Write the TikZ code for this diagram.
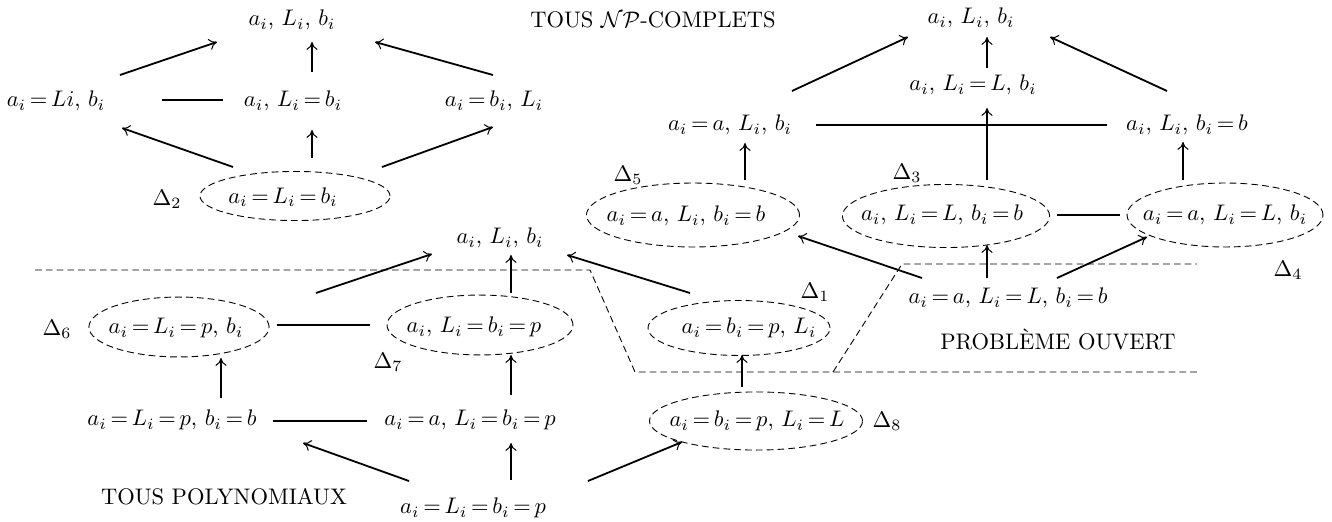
\documentclass[tikz,border=0pt]{standalone}
\usepackage{fontspec}
\usetikzlibrary{calc,arrows.meta}
\begin{document}
\begin{tikzpicture}[x=0.444pt,y=-0.444pt,
  lbl/.style={inner sep=0pt},
  arr/.style={line width=0.8pt,-{To[length=3.5pt,width=5pt,line width=0.45pt]}},
  lin/.style={line width=0.8pt},
  dsh/.style={line width=0.4pt,dash pattern=on 3pt off 1.8pt}]
\thickmuskip=3mu
\useasboundingbox (0,0) rectangle (1332,522);
% top-left group
\node[lbl] (A1) at (292,20) {$a_i$, $L_i$, $b_i$};
\node[lbl] (A2) at (56,101) {$a_i=Li$, $b_i$};
\node[lbl] (A3) at (293,101) {$a_i$, $L_i=b_i$};
\node[lbl] (A4) at (494,101) {$a_i=b_i$, $L_i$};
\node[lbl] (A5) at (283,197) {$a_i=L_i=b_i$};
\node[lbl] (D2) at (167,199) {$\Delta_2$};
\node[lbl] (T1) at (653,20) {TOUS $\mathcal{NP}$-COMPLETS};
% top-right group
\node[lbl] (B1) at (971,18) {$a_i$, $L_i$, $b_i$};
\node[lbl] (B2) at (973,85) {$a_i$, $L_i=L$, $b_i$};
\node[lbl] (B3) at (730,125) {$a_i=a$, $L_i$, $b_i$};
\node[lbl] (B4) at (1187,125) {$a_i$, $L_i$, $b_i=b$};
\node[lbl] (E5) at (686,216) {$a_i=a$, $L_i$, $b_i=b$};
\node[lbl] (E3) at (942,215) {$a_i$, $L_i=L$, $b_i=b$};
\node[lbl] (E4) at (1225,215) {$a_i=a$, $L_i=L$, $b_i$};
\node[lbl] (D5) at (628,175) {$\Delta_5$};
\node[lbl] (D3) at (907,173) {$\Delta_3$};
\node[lbl] (D4) at (1288,270) {$\Delta_4$};
\node[lbl] (N) at (1008,298) {$a_i=a$, $L_i=L$, $b_i=b$};
\node[lbl] (T2) at (1058,340) {PROBLÈME OUVERT};
% bottom-left group
\node[lbl] (C1) at (500,238) {$a_i$, $L_i$, $b_i$};
\node[lbl] (C2) at (176,328) {$a_i=L_i=p$, $b_i$};
\node[lbl] (C3) at (474,327) {$a_i$, $L_i=b_i=p$};
\node[lbl] (C4) at (749,328) {$a_i=b_i=p$, $L_i$};
\node[lbl] (C5) at (172,420) {$a_i=L_i=p$, $b_i=b$};
\node[lbl] (C6) at (470,420) {$a_i=a$, $L_i=b_i=p$};
\node[lbl] (C7) at (757,421) {$a_i=b_i=p$, $L_i=L$};
\node[lbl] (C8) at (473,508) {$a_i=L_i=b_i=p$};
\node[lbl] (D6) at (57,329) {$\Delta_6$};
\node[lbl] (D7) at (388,362) {$\Delta_7$};
\node[lbl] (D1) at (815,292) {$\Delta_1$};
\node[lbl] (D8) at (887,421) {$\Delta_8$};
\node[lbl] (T3) at (224,497) {TOUS POLYNOMIAUX};
% ellipses
\draw[dsh] ($(A5)+(12,-1)$) ellipse [x radius=42.2pt, y radius=10.9pt];
\draw[dsh] ($(E5)+(7,-1)$) ellipse [x radius=47.3pt, y radius=14.2pt];
\draw[dsh] ($(E3)+(4,1)$) ellipse [x radius=46pt, y radius=14pt];
\draw[dsh] ($(E4)+(0,0)$) ellipse [x radius=43.5pt, y radius=14.2pt];
\draw[dsh] ($(C2)+(3,-1)$) ellipse [x radius=40pt, y radius=13.3pt];
\draw[dsh] ($(C3)+(6,-2)$) ellipse [x radius=41.3pt, y radius=13.3pt];
\draw[dsh] ($(C4)+(-10,0)$) ellipse [x radius=40.4pt, y radius=12.2pt];
\draw[dsh] ($(C7)+(-1,0)$) ellipse [x radius=47.3pt, y radius=12.9pt];
% dashed boundaries
\draw[dsh] (35,270) -- (590,270) -- (635,372) -- (1197,372);
\draw[dsh] (833,372) -- (902,264) -- (1197,264);
% connectors top-left
\draw[arr] ($(A2)+(64,-26)$) -- ($(A1)+(-75,22)$);
\draw[arr] ($(A3)+(19,-29)$) -- ($(A1)+(20,22)$);
\draw[arr] ($(A4)+(-1,-26)$) -- ($(A1)+(83,22)$);
\draw[lin] ($(A2)+(106,-1)$) -- ($(A3)+(-70,-1)$);
\draw[arr] ($(A5)+(-50,-30)$) -- ($(A2)+(66,27)$);
\draw[arr] ($(A5)+(29,-39)$) -- ($(A3)+(19,29)$);
\draw[arr] ($(A5)+(99,-30)$) -- ($(A4)+(-1,26)$);
% connectors top-right
\draw[arr] ($(B3)+(62,-34)$) -- ($(B1)+(-63,19)$);
\draw[arr] ($(B2)+(14,-17)$) -- ($(B1)+(16,19)$);
\draw[arr] ($(B4)+(-20,-34)$) -- ($(B1)+(79,19)$);
\draw[lin] ($(B3)+(86,0)$) -- ($(B4)+(-80,0)$);
\draw[arr] ($(E3)+(45,-35)$) -- ($(B2)+(14,23)$);
\draw[arr] ($(E4)+(-42,-35)$) -- ($(B4)+(-4,17)$);
\draw[arr] ($(E5)+(59,-36)$) -- ($(B3)+(15,18)$);
\draw[lin] ($(E3)+(115,0)$) -- ($(E4)+(-105,0)$);
\draw[arr] ($(N)+(-21,-20)$) -- ($(E3)+(45,30)$);
\draw[arr] ($(N)+(49,-20)$) -- ($(E4)+(-78,22)$);
\draw[arr] ($(N)+(-86,-20)$) -- ($(E5)+(112,20)$);
% connectors bottom-left
\draw[arr] ($(C2)+(140,-35)$) -- ($(C1)+(-68,16)$);
\draw[arr] ($(C3)+(37,-34)$) -- ($(C1)+(11,17)$);
\draw[arr] ($(C4)+(-59,-35)$) -- ($(C1)+(67,17)$);
\draw[lin] ($(C2)+(101,-3)$) -- ($(C3)+(-104,-2)$);
\draw[arr] ($(C5)+(49,-22)$) -- ($(C2)+(45,30)$);
\draw[arr] ($(C6)+(41,-25)$) -- ($(C3)+(37,28)$);
\draw[lin] ($(C5)+(101,1)$) -- ($(C6)+(-103,1)$);
\draw[arr] ($(C8)+(-64,-27)$) -- ($(C5)+(131,23)$);
\draw[arr] ($(C8)+(38,-28)$) -- ($(C6)+(41,23)$);
\draw[arr] ($(C8)+(115,-27)$) -- ($(C7)+(-75,21)$);
\draw[arr] ($(C7)+(-15,-34)$) -- ($(C4)+(-7,27)$);
\end{tikzpicture}
\end{document}
